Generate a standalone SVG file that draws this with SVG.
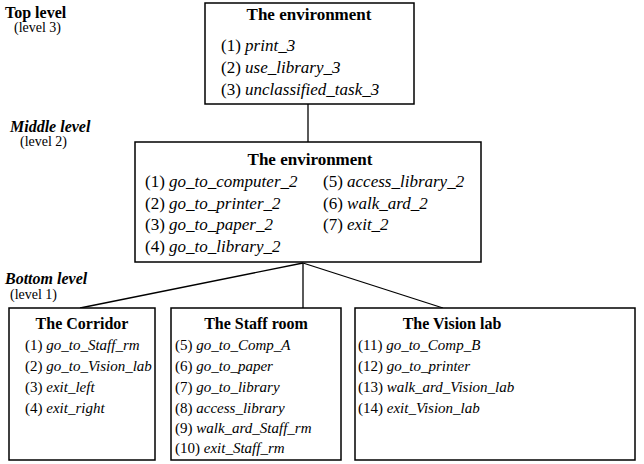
<svg xmlns="http://www.w3.org/2000/svg" width="644" height="464" viewBox="0 0 644 464">
<style>
text{font-family:"Liberation Serif","Times New Roman",serif;fill:#000}
.t{font-size:17px;font-weight:bold;text-anchor:middle}
.tb{font-size:16px;font-weight:bold;text-anchor:middle}
.i{font-size:17px}
.ib{font-size:15px}
.n{font-style:italic}
.lv{font-size:16px;font-weight:bold}
.sub{font-size:14px}
.box{fill:#fff;stroke:#000;stroke-width:1.5}
.c line{stroke:#000;stroke-width:1.3}
</style>
<rect width="644" height="464" fill="#fff"/>
<g id="labels">
<text class="lv" x="5" y="18">Top level</text>
<text class="sub" x="14" y="32">(level 3)</text>
<text class="lv" x="10" y="132" font-style="italic">Middle level</text>
<text class="sub" x="20" y="146">(level 2)</text>
<text class="lv" x="5" y="284" font-style="italic">Bottom level</text>
<text class="sub" x="10" y="299">(level 1)</text>
</g>
<g class="c" id="connectors">
<line x1="308" y1="104" x2="308" y2="142"/>
<line x1="303" y1="263" x2="80" y2="308"/>
<line x1="303" y1="263" x2="303" y2="308"/>
<line x1="303" y1="263" x2="443" y2="308"/>
</g>
<g id="top">
<rect class="box" x="205" y="3" width="209" height="101"/>
<text class="t" x="309" y="20">The environment</text>
<text class="i" x="221" y="51">(1) <tspan class="n">print_3</tspan></text>
<text class="i" x="221" y="73">(2) <tspan class="n">use_library_3</tspan></text>
<text class="i" x="221" y="95">(3) <tspan class="n">unclassified_task_3</tspan></text>
</g>
<g id="middle">
<rect class="box" x="135" y="142" width="346" height="120"/>
<text class="t" x="310" y="165">The environment</text>
<text class="i" x="145" y="187">(1) <tspan class="n">go_to_computer_2</tspan></text>
<text class="i" x="145" y="209">(2) <tspan class="n">go_to_printer_2</tspan></text>
<text class="i" x="145" y="230">(3) <tspan class="n">go_to_paper_2</tspan></text>
<text class="i" x="145" y="252">(4) <tspan class="n">go_to_library_2</tspan></text>
<text class="i" x="323" y="187">(5) <tspan class="n">access_library_2</tspan></text>
<text class="i" x="323" y="209">(6) <tspan class="n">walk_ard_2</tspan></text>
<text class="i" x="323" y="230">(7) <tspan class="n">exit_2</tspan></text>
</g>
<g id="corridor">
<rect class="box" x="9" y="308" width="146" height="152"/>
<text class="tb" x="82" y="329">The Corridor</text>
<text class="ib" x="25" y="350">(1) <tspan class="n">go_to_Staff_rm</tspan></text>
<text class="ib" x="25" y="371">(2) <tspan class="n">go_to_Vision_lab</tspan></text>
<text class="ib" x="25" y="392">(3) <tspan class="n">exit_left</tspan></text>
<text class="ib" x="25" y="413">(4) <tspan class="n">exit_right</tspan></text>
</g>
<g id="staff">
<rect class="box" x="171" y="308" width="170" height="152"/>
<text class="tb" x="256" y="329">The Staff room</text>
<text class="ib" x="175" y="350">(5) <tspan class="n">go_to_Comp_A</tspan></text>
<text class="ib" x="175" y="371">(6) <tspan class="n">go_to_paper</tspan></text>
<text class="ib" x="175" y="392">(7) <tspan class="n">go_to_library</tspan></text>
<text class="ib" x="175" y="413">(8) <tspan class="n">access_library</tspan></text>
<text class="ib" x="175" y="433">(9) <tspan class="n">walk_ard_Staff_rm</tspan></text>
<text class="ib" x="175" y="453">(10) <tspan class="n">exit_Staff_rm</tspan></text>
</g>
<g id="vision">
<rect class="box" x="355" y="308" width="280" height="152"/>
<text class="tb" x="452" y="329">The Vision lab</text>
<text class="ib" x="358" y="350">(11) <tspan class="n">go_to_Comp_B</tspan></text>
<text class="ib" x="358" y="371">(12) <tspan class="n">go_to_printer</tspan></text>
<text class="ib" x="358" y="392">(13) <tspan class="n">walk_ard_Vision_lab</tspan></text>
<text class="ib" x="358" y="413">(14) <tspan class="n">exit_Vision_lab</tspan></text>
</g>
</svg>
